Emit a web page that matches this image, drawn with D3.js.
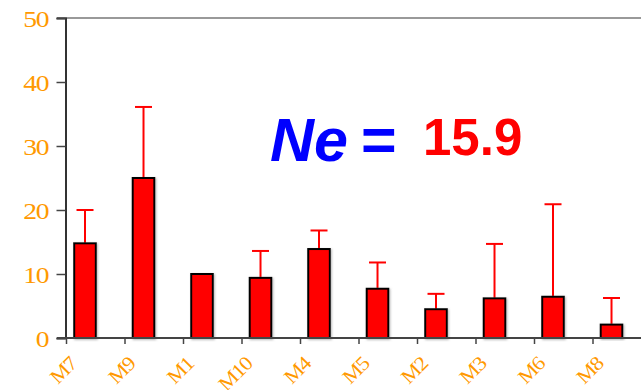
<!DOCTYPE html>
<html>
<head>
<meta charset="utf-8">
<script src="https://cdn.jsdelivr.net/npm/d3@7/dist/d3.min.js"></script>
<style>
  html, body { margin: 0; padding: 0; background: #fff; }
  svg { display: block; }
  .serif { font-family: "Liberation Serif", "DejaVu Serif", serif; }
</style>
</head>
<body>
<svg id="chart" width="641" height="390"></svg>
<script>
// Loci and their mean Ne estimates with upper error (SD)
const loci = ["M7", "M9", "M1", "M10", "M4", "M5", "M2", "M3", "M6", "M8"];
const neValues = [14.8, 25.0, 10.0, 9.4, 13.9, 7.7, 4.5, 6.2, 6.45, 2.1];
const neErrors = [5.2, 11.1, 0, 4.2, 2.9, 4.1, 2.4, 8.5, 14.45, 4.15];
const yTicks = [0, 10, 20, 30, 40, 50];
const overallNe = "15.9";

const orange = "#FF9900";
const svg = d3.select("#chart");

const x = d3.scaleBand().domain(loci).range([66, 651]).paddingInner(0).paddingOuter(0);
const y = d3.scaleLinear().domain([0, 50]).range([338, 18]);
const bw = x.bandwidth();
const barOffset = bw * 0.14;
const barWidth = bw * 0.37;

// soft shadow under bars
const defs = svg.append("defs");
const f = defs.append("filter").attr("id", "shadow").attr("x", "-20%").attr("y", "-20%").attr("width", "140%").attr("height", "140%");
f.append("feDropShadow").attr("dx", 1).attr("dy", 1).attr("stdDeviation", 0.8)
  .attr("flood-color", "#888").attr("flood-opacity", 0.6);

// top border of plot area
svg.append("line")
  .attr("x1", 57).attr("x2", 641)
  .attr("y1", y(50)).attr("y2", y(50))
  .attr("stroke", "#999").attr("stroke-width", 2);

// error bars (upper only)
const data = loci.map((k, i) => ({ k, v: neValues[i], e: neErrors[i] }));
const eb = svg.append("g");
data.filter(d => d.e > 0).forEach(d => {
  const cx = x(d.k) + barOffset + barWidth / 2;
  eb.append("line").attr("x1", cx).attr("x2", cx)
    .attr("y1", y(d.v)).attr("y2", y(d.v + d.e))
    .attr("stroke", "#FF0000").attr("stroke-width", 2);
  eb.append("line").attr("x1", cx - 8.5).attr("x2", cx + 8.5)
    .attr("y1", y(d.v + d.e)).attr("y2", y(d.v + d.e))
    .attr("stroke", "#FF0000").attr("stroke-width", 2);
});

// bars
svg.append("g").selectAll("rect").data(data).join("rect")
  .attr("x", d => x(d.k) + barOffset)
  .attr("y", d => y(d.v))
  .attr("width", barWidth)
  .attr("height", d => y(0) - y(d.v))
  .attr("fill", "#FF0000")
  .attr("stroke", "#000")
  .attr("stroke-width", 2)
  .attr("filter", "url(#shadow)");

// y axis
const yAxis = svg.append("g").attr("transform", "translate(65.5,0)")
  .call(d3.axisLeft(y).tickValues(yTicks).tickSize(9).tickPadding(9).tickFormat(d3.format("d")));
yAxis.attr("font-family", null).attr("font-size", null);
yAxis.select(".domain").attr("stroke", "#333").attr("stroke-width", 2);
yAxis.selectAll(".tick line").attr("stroke", "#444").attr("stroke-width", 1.5);
yAxis.selectAll(".tick text")
  .attr("class", "serif")
  .attr("fill", orange)
  .attr("x", 0)
  .attr("transform", "translate(-17,0) scale(1.15,1)")
  .style("font-size", "24px")
  .style("letter-spacing", "-1px")
  .attr("dy", "0.34em");

// x axis: ticks at category boundaries
const xAxisG = svg.append("g");
xAxisG.append("line")
  .attr("x1", 57).attr("x2", 641)
  .attr("y1", y(0)).attr("y2", y(0))
  .attr("stroke", "#444").attr("stroke-width", 2);
xAxisG.selectAll("line.tk").data(loci).join("line").attr("class", "tk")
  .attr("x1", d => x(d) + 0.5).attr("x2", d => x(d) + 0.5)
  .attr("y1", y(0)).attr("y2", y(0) + 6)
  .attr("stroke", "#444").attr("stroke-width", 1.5);

// rotated category labels
xAxisG.selectAll("text").data(loci).join("text")
  .attr("class", "serif")
  .attr("transform", d => `translate(${x(d) + 12},${365}) rotate(-45) scale(1.1,1)`)
  .attr("text-anchor", "end")
  .attr("fill", orange)
  .style("font-size", "20px")
  .style("letter-spacing", "-1px")
  .text(d => d);

// overall Ne annotation
const ann = svg.append("text")
  .attr("x", 270).attr("y", 160.5)
  .style("font-family", "'Liberation Sans', Arial, sans-serif")
  .style("font-weight", "bold")
  .style("font-size", "61px")
  .attr("fill", "#0000FF");
ann.append("tspan").style("font-style", "italic").text("Ne");
ann.append("tspan").attr("x", 361).text("=");

svg.append("text")
  .attr("x", 423).attr("y", 155)
  .style("font-family", "'Liberation Sans', Arial, sans-serif")
  .style("font-weight", "bold")
  .style("font-size", "51px")
  .attr("fill", "#FF0000")
  .text(overallNe);
</script>
</body>
</html>
